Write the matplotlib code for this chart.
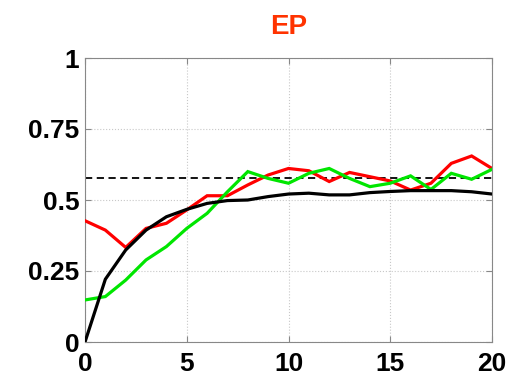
import matplotlib
matplotlib.use("Agg")
import matplotlib.pyplot as plt
import numpy as np

x = list(range(21))
red = [0.427, 0.394, 0.333, 0.400, 0.418, 0.465, 0.515, 0.515, 0.553, 0.588, 0.611,
       0.603, 0.565, 0.597, 0.582, 0.567, 0.535, 0.559, 0.629, 0.655, 0.611]
green = [0.148, 0.160, 0.218, 0.289, 0.336, 0.400, 0.453, 0.529, 0.600, 0.576, 0.559,
         0.594, 0.611, 0.576, 0.547, 0.559, 0.585, 0.537, 0.594, 0.573, 0.608]
black = [0.0, 0.221, 0.324, 0.394, 0.441, 0.467, 0.488, 0.498, 0.500, 0.512, 0.521,
         0.524, 0.518, 0.518, 0.526, 0.530, 0.533, 0.533, 0.533, 0.529, 0.521]
baseline = 0.577
xticks = [0, 5, 10, 15, 20]
yticks = [0, 0.25, 0.5, 0.75, 1]
yticklabels = ["0", "0.25", "0.5", "0.75", "1"]
title = "EP"

plt.rcParams['font.family'] = ['Liberation Sans', 'DejaVu Sans']
fig = plt.figure(figsize=(5.14, 3.78), dpi=100)
ax = fig.add_axes([85/514, 1 - 342/378, (492-85)/514, (342-58)/378])

ax.plot(x, red, color='#ff0000', lw=2.3, solid_joinstyle='miter', zorder=3)
ax.plot(x, green, color='#00e600', lw=2.3, solid_joinstyle='miter', zorder=3)
ax.plot(x, black, color='black', lw=2.3, zorder=4)
ax.axhline(baseline, color='black', lw=1.3, ls=(0, (4, 2.5)), zorder=2)

ax.set_xlim(0, 20)
ax.set_ylim(0, 1)
ax.set_xticks(xticks)
ax.set_yticks(yticks)
ax.set_yticklabels(yticklabels)
ax.grid(True, color='#c8c8c8', ls=':', lw=0.8)
for s in ax.spines.values():
    s.set_color('#888888')
    s.set_linewidth(0.8)
ax.tick_params(direction='in', length=4, color='#888888', labelsize=19,
               top=True, right=True)
ax.tick_params(axis='x', pad=7)
ax.tick_params(axis='y', pad=4)
for lab in ax.get_xticklabels() + ax.get_yticklabels():
    lab.set_fontweight('bold')
ax.set_title(title, color='#ff3300', fontsize=20, fontweight='bold', pad=17)

fig.savefig('out.png', dpi=100)
